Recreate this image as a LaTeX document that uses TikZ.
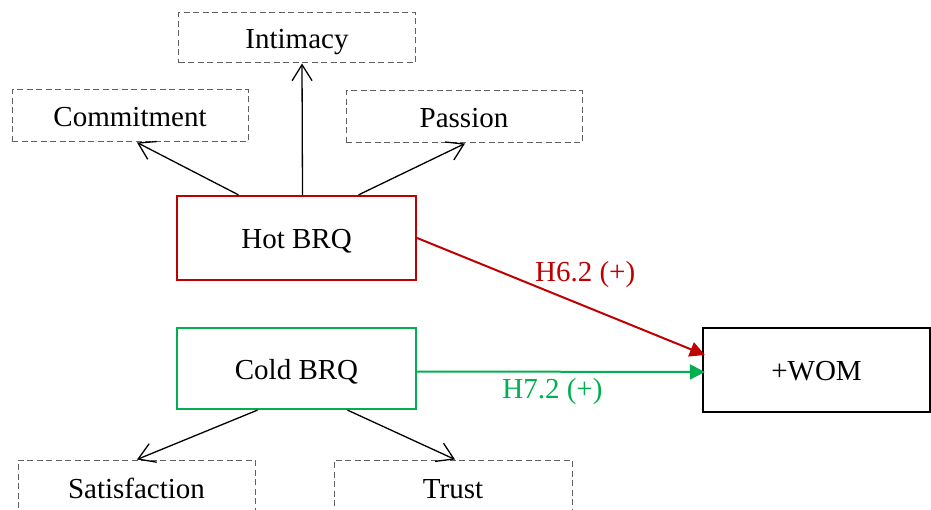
\documentclass[tikz,border=0pt]{standalone}
\usepackage{fontspec}
\setmainfont{Liberation Serif}
\usetikzlibrary{arrows.meta}
\definecolor{hotred}{HTML}{C00000}
\definecolor{coldgreen}{HTML}{00B050}
\definecolor{dashgray}{HTML}{606060}
\begin{document}
\begin{tikzpicture}[x=1pt,y=-1pt,
  every node/.style={font=\fontsize{29}{34}\selectfont, inner sep=0pt},
  dimbox/.style={draw=dashgray, line width=1pt, dash pattern=on 6pt off 3.5pt, rectangle, text height=22pt, text depth=0pt},
  mainbox/.style={rectangle, line width=2.2pt, text height=21pt, text depth=0pt},
  barb/.style={draw=black, line width=1.3pt, -{Straight Barb[length=16pt,width=20pt,line width=1.3pt]}},
  hyp/.style={line width=2pt, -{Triangle[length=15pt,width=15pt]}},
  hyplabel/.style={font=\fontsize{29}{34}\selectfont}
]
\useasboundingbox (0,0) rectangle (931,510);
\clip (0,0) rectangle (931,510);

\node[dimbox, minimum width=237pt, minimum height=50pt] (intimacy) at (297,38) {Intimacy};
\node[dimbox, minimum width=236pt, minimum height=52pt] (commitment) at (130,116) {Commitment};
\node[dimbox, minimum width=236pt, minimum height=52pt] (passion) at (464,117) {Passion};
\node[mainbox, draw=hotred, minimum width=239pt, minimum height=84pt] (hot) at (296.5,238) {Hot BRQ};
\node[mainbox, draw=coldgreen, minimum width=239pt, minimum height=81pt] (cold) at (296.5,368.5) {Cold BRQ};
\node[mainbox, draw=black, minimum width=227pt, minimum height=84pt] (wom) at (816.5,370) {+WOM};
\node[dimbox, minimum width=237pt, minimum height=54pt] (satisfaction) at (136.5,487) {Satisfaction};
\node[dimbox, minimum width=238pt, minimum height=54pt] (trust) at (453,487) {Trust};

\draw[barb] ([xshift=-58pt]hot.north) -- ([xshift=7pt]commitment.south);
\draw[barb] ([xshift=6pt]hot.north) -- ([xshift=5pt]intimacy.south);
\draw[barb] ([xshift=62pt]hot.north) -- ([xshift=1pt]passion.south);
\draw[barb] ([xshift=-39pt]cold.south) -- ([xshift=0.5pt]satisfaction.north);
\draw[barb] ([xshift=51pt]cold.south) -- ([xshift=2pt]trust.north);

\draw[hyp, draw=hotred, fill=hotred] (hot.east) -- node[pos=0.584, yshift=32pt, text=hotred] (h62) {H6.2 (+)} ([xshift=3pt,yshift=15pt]wom.west);
\draw[hyp, draw=coldgreen, fill=coldgreen] ([yshift=-3pt]cold.east) -- node[pos=0.47, yshift=-20pt, text=coldgreen] (h72) {H7.2 (+)} ([xshift=3pt,yshift=-2pt]wom.west);
\end{tikzpicture}
\end{document}
